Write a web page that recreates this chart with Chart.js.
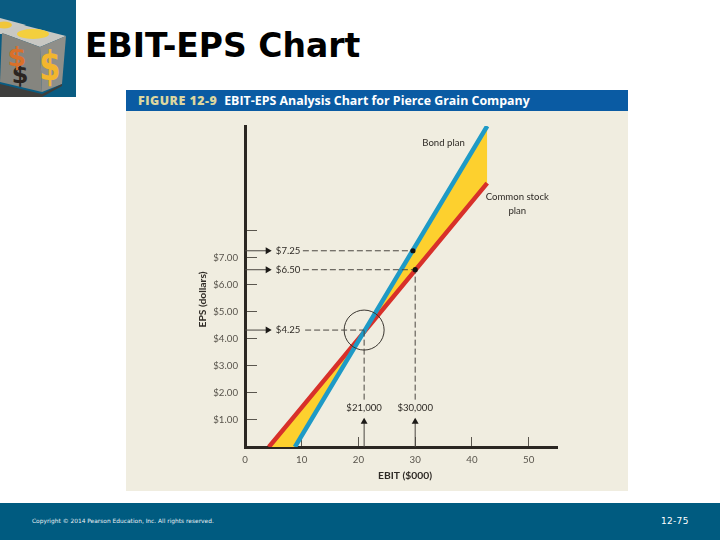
<!DOCTYPE html>
<html><head><meta charset="utf-8">
<script src="https://cdn.jsdelivr.net/npm/chart.js@4"></script>
<style>
html,body{margin:0;padding:0;background:#fff;width:720px;height:540px;overflow:hidden}
.a{position:absolute;white-space:nowrap}
#panel{left:126px;top:90px;width:502px;height:401px;background:#f0ede0}
#head{left:126px;top:90px;width:502px;height:21px;background:#0a5ba3;color:#fff;font:bold 12.4px "Open Sans",sans-serif;line-height:21px;text-indent:12px}
#head b{color:#dcd79f;margin-right:7px;letter-spacing:.5px}
#title{left:85px;top:27px;font:bold 33px "DejaVu Sans",sans-serif;color:#000;line-height:38px}
#foot{left:0;top:503px;width:720px;height:37px;background:#005b80}
#copy{left:32px;top:517px;font:5.9px "DejaVu Sans",sans-serif;color:#e8f0f4;line-height:9px}
#num{left:661px;top:515px;font:9px "DejaVu Sans",sans-serif;color:#fff;line-height:12px;letter-spacing:.3px}
#logo{left:0;top:0}
canvas{position:absolute;left:0;top:0}
</style></head><body>
<svg id="logo" class="a" width="76" height="97" viewBox="0 0 76 97">
<rect width="76" height="97" fill="#0a5c82"/>
<polygon points="0,18 26,25 2,34 0,34" fill="#c9c9c4"/>
<ellipse cx="4" cy="25" rx="8" ry="3.5" fill="#f0c63a"/>
<polygon points="2,33 23,25 66,36 40,47" fill="#c8c8c3"/>
<ellipse cx="33" cy="34" rx="16" ry="5" fill="#f3cf3e"/>
<polygon points="2,33 40,47 42,92 0,82" fill="#85857f"/>
<polygon points="40,47 66,36 62,84 42,92" fill="#8f8f8a"/>
<polygon points="0,84 42,94 62,84 62,86 42,97 0,97" fill="#3e3e3c"/>
<text transform="translate(50,80) scale(.85,1.15)" text-anchor="middle" font-family="DejaVu Sans" font-weight="bold" font-size="36" fill="#f2b62e">$</text>
<text transform="translate(20,83)" text-anchor="middle" font-family="DejaVu Sans" font-weight="bold" font-size="24" fill="#2a2420">$</text>
<text transform="translate(17,66)" text-anchor="middle" font-family="DejaVu Sans" font-weight="bold" font-size="27" fill="#d9702a">$</text>
</svg>
<div id="title" class="a">EBIT-EPS Chart</div>
<div id="panel" class="a"></div>
<div id="head" class="a"><b>FIGURE 12-9</b>EBIT-EPS Analysis Chart for Pierce Grain Company</div>
<div id="foot" class="a"></div>
<div id="copy" class="a">Copyright © 2014 Pearson Education, Inc. All rights reserved.</div>
<div id="num" class="a">12-75</div>
<canvas id="c" width="720" height="540"></canvas>
<script>
// EBIT ($000) and EPS (dollars)
const commonX = [4.2, 8.8, 20.8, 42.7];
const commonY = [0, 1.16, 4.2, 9.75];
const bondX = [8.8, 20.8, 42.7];
const bondY = [0, 4.2, 11.86];
const bondEdgeX = [4.2, 8.8, 20.8, 42.7];
const bondEdgeY = [0, 0, 4.2, 11.86];
const xTicks = [0, 10, 20, 30, 40, 50];
const yTicks = [1, 2, 3, 4, 5, 6, 7, 8];
const yTickLabels = ['$1.00', '$2.00', '$3.00', '$4.00', '$5.00', '$6.00', '$7.00', ''];
const epsCallouts = [7.25, 6.55, 4.32];
const epsDashFrom = [10.2, 10.2, 10.6];
const epsDashTo = [29.6, 30, 21];
const ebitCallouts = [21, 30];
const ebitDashTo = [4.32, 6.55];
const dotX = [29.6, 30];
const dotY = [7.25, 6.55];
const breakEven = [21, 4.32];
const noteTexts = ['$7.25', '$6.50', '$4.25', '$21,000', '$30,000', 'Bond plan', 'Common stock', 'plan'];
const noteX = [7.6, 7.6, 7.6, 21, 30, 35, 48, 48];
const noteY = [7.25, 6.55, 4.32, 1.43, 1.43, 11.23, 9.24, 8.72];
const xAxisLabel = 'EBIT ($000)';
const yAxisLabel = 'EPS (dollars)';

const zip = (xs, ys) => xs.map((x, i) => ({x, y: ys[i]}));
const INK = '#2b2722', BLUE = '#1e9ac6', RED = '#d8302a', YEL = '#fdd02e';
const FONT = 'Lato, sans-serif';
const thin = (data, extra) => Object.assign({data, borderColor: '#4a4640', borderWidth: 1, pointRadius: 0, order: 1}, extra);

const datasets = [
  {label: 'Bond edge', data: zip(bondEdgeX, bondEdgeY), borderWidth: 0, pointRadius: 0, fill: {target: 1, above: YEL, below: YEL}, order: 9},
  {label: 'Common stock plan', data: zip(commonX, commonY), borderColor: RED, borderWidth: 4.5, pointRadius: 0, order: 5},
  {label: 'Bond plan', data: zip(bondX, bondY), borderColor: BLUE, borderWidth: 4.5, pointRadius: 0, order: 4}
];
epsCallouts.forEach((v, i) => {
  datasets.push(thin(zip([epsDashFrom[i], epsDashTo[i]], [v, v]), {borderDash: [6, 3]}));
  datasets.push(thin(zip([0, 4.0], [v, v]), {pointStyle: 'triangle', pointRadius: [0, 4], pointRotation: [0, 90], pointBackgroundColor: '#1c1a17', pointBorderWidth: 0}));
});
ebitCallouts.forEach((v, i) => {
  datasets.push(thin(zip([v, v], [1.75, ebitDashTo[i]]), {borderDash: [6, 3]}));
  datasets.push(thin(zip([v, v], [0, 0.93]), {pointStyle: 'triangle', pointRadius: [0, 4], pointBackgroundColor: '#1c1a17', pointBorderWidth: 0}));
});
datasets.push({label: 'Points', data: zip(dotX, dotY), showLine: false, pointRadius: 2.6, pointBackgroundColor: '#111', pointBorderWidth: 0, order: 0});
datasets.push({label: 'Break-even', data: zip([breakEven[0]], [breakEven[1]]), showLine: false, pointRadius: 20, pointBackgroundColor: 'transparent', pointBorderColor: '#3a3630', pointBorderWidth: 1, order: 0});

const notes = {
  id: 'notes',
  afterDatasetsDraw(chart) {
    const {ctx, scales: {x, y}} = chart;
    ctx.save();
    ctx.fillStyle = '#2f2b26';
    ctx.textAlign = 'center';
    ctx.textBaseline = 'middle';
    ctx.font = '9.6px ' + FONT;
    noteTexts.forEach((t, i) => ctx.fillText(t, x.getPixelForValue(noteX[i]), y.getPixelForValue(noteY[i])));
    ctx.font = 'bold 10.3px ' + FONT;
    ctx.fillText(xAxisLabel, x.getPixelForValue(28.2), y.getPixelForValue(-1.05));
    ctx.translate(x.getPixelForValue(-7.4), y.getPixelForValue(5.45));
    ctx.rotate(-Math.PI / 2);
    ctx.fillText(yAxisLabel, 0, 0);
    ctx.restore();
  }
};

new Chart(document.getElementById('c'), {
  type: 'line',
  data: {datasets},
  plugins: [notes],
  options: {
    responsive: false,
    animation: false,
    events: [],
    layout: {padding: {top: 126, right: 163, left: 0, bottom: 0}},
    elements: {line: {tension: 0}},
    plugins: {legend: {display: false}, title: {display: false}, tooltip: {enabled: false}},
    scales: {
      x: {
        type: 'linear', min: 0, max: 55,
        afterBuildTicks: s => { s.ticks = xTicks.map(value => ({value})); },
        afterFit: s => { s.height = 93; },
        border: {color: INK, width: 3},
        grid: {drawOnChartArea: false, tickLength: -10, color: '#5a564e', lineWidth: 1},
        ticks: {padding: 17, color: '#57534b', font: {family: FONT, size: 9.7}, maxRotation: 0, autoSkip: false, callback: v => String(v)}
      },
      y: {
        type: 'linear', min: 0, max: 11.86,
        afterBuildTicks: s => { s.ticks = yTicks.map(value => ({value})); },
        afterFit: s => { s.width = 245; },
        border: {color: INK, width: 3},
        grid: {drawOnChartArea: false, tickLength: -12, color: '#5a564e', lineWidth: 1},
        ticks: {padding: 19, color: '#57534b', font: {family: FONT, size: 9.7}, autoSkip: false, callback: v => yTickLabels[yTicks.indexOf(v)]}
      }
    }
  }
});
</script>
</body></html>
